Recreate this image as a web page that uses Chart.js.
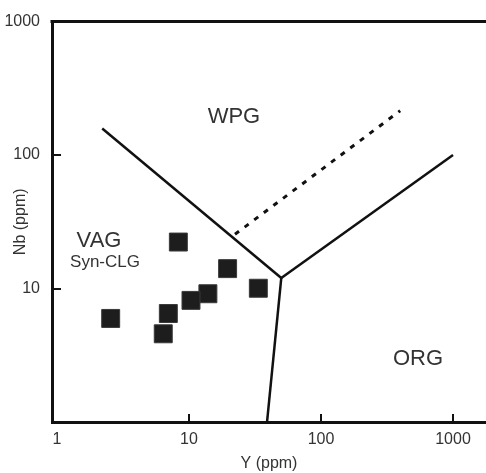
<!DOCTYPE html>
<html>
<head>
<meta charset="utf-8">
<script src="https://cdn.jsdelivr.net/npm/chart.js@4/dist/chart.umd.min.js"></script>
<style>
  html, body { margin: 0; padding: 0; background: #ffffff; }
  #wrap { width: 486px; height: 473px; }
</style>
</head>
<body>
<div id="wrap"><canvas id="c" width="486" height="473"></canvas></div>
<script>
// ---- data (Y ppm on x axis, Nb ppm on y axis) ----
const sampleY  = [2.55, 8.3, 19.6, 33.5, 13.9, 10.35, 6.97, 6.38];
const sampleNb = [5.97, 22.3, 14.1, 10.05, 9.14, 8.15, 6.5, 4.58];

// field boundaries
const wpgVagY  = [2.2, 50];   const wpgVagNb  = [158, 12];
const wpgOrgY  = [50, 1000];  const wpgOrgNb  = [12, 100];
const vagOrgY  = [50, 39];    const vagOrgNb  = [12, 1];
const dashY    = [22.3, 398]; const dashNb    = [25.5, 215];

// tick values
const xTicks = [1, 10, 100, 1000];
const yTicks = [1, 10, 100, 1000];

// field labels: text, Y, Nb
const fieldText = ['WPG', 'VAG', 'Syn-CLG', 'ORG'];
const fieldY    = [21.9, 2.08, 2.31, 543];
const fieldNb   = [194.5, 22.7, 15.8, 2.98];
const fieldSize = [22, 22, 17, 22];

const toPts = (xs, ys) => xs.map((x, i) => ({x: x, y: ys[i]}));

const FONT = '"Liberation Sans", Arial, sans-serif';
const INK = '#111';
const TXT = '#333';

const framePlugin = {
  id: 'frame',
  afterDraw(chart) {
    const ctx = chart.ctx;
    const a = chart.chartArea;
    const xs = chart.scales.x, ys = chart.scales.y;
    ctx.save();
    ctx.strokeStyle = INK;
    // top border
    ctx.lineWidth = 3;
    ctx.beginPath();
    ctx.moveTo(a.left - 1.5, a.top);
    ctx.lineTo(a.right, a.top);
    ctx.stroke();
    // inward tick marks
    ctx.lineWidth = 2;
    [10, 100, 1000].forEach(v => {
      const px = Math.round(xs.getPixelForValue(v));
      ctx.beginPath();
      ctx.moveTo(px, a.bottom);
      ctx.lineTo(px, a.bottom - 8);
      ctx.stroke();
    });
    [10, 100].forEach(v => {
      const py = Math.round(ys.getPixelForValue(v));
      ctx.beginPath();
      ctx.moveTo(a.left, py);
      ctx.lineTo(a.left + 9, py);
      ctx.stroke();
    });
    // field labels
    ctx.fillStyle = TXT;
    ctx.textAlign = 'center';
    ctx.textBaseline = 'middle';
    fieldText.forEach((t, i) => {
      ctx.font = fieldSize[i] + 'px ' + FONT;
      ctx.fillText(t, xs.getPixelForValue(fieldY[i]), ys.getPixelForValue(fieldNb[i]));
    });
    ctx.restore();
  }
};

const lineDs = (xs, ys, dash, w) => ({
  type: 'line',
  data: toPts(xs, ys),
  showLine: true,
  borderColor: INK,
  borderWidth: w,
  borderDash: dash,
  pointRadius: 0,
  fill: false,
  tension: 0
});

new Chart(document.getElementById('c'), {
  type: 'scatter',
  data: {
    datasets: [
      lineDs(wpgVagY, wpgVagNb, [], 2.5),
      lineDs(wpgOrgY, wpgOrgNb, [], 2.5),
      lineDs(vagOrgY, vagOrgNb, [], 2.5),
      lineDs(dashY, dashNb, [5, 7], 3),
      {
        type: 'scatter',
        data: toPts(sampleY, sampleNb),
        pointStyle: 'rect',
        pointRadius: 12.7,
        pointHoverRadius: 12.7,
        backgroundColor: '#1d1d1d',
        borderColor: '#3a3a3a',
        borderWidth: 1
      }
    ]
  },
  options: {
    responsive: false,
    animation: false,
    devicePixelRatio: 1,
    layout: { autoPadding: false, padding: { top: 16, right: 0, left: 0, bottom: 0 } },
    plugins: { legend: { display: false }, tooltip: { enabled: false } },
    scales: {
      x: {
        type: 'logarithmic',
        min: 0.916,
        max: 1778,
        afterBuildTicks(s) { s.ticks = xTicks.map(v => ({value: v})); },
        afterFit(s) { s.height = 51; },
        grid: { display: true, drawOnChartArea: false, drawTicks: false },
        border: { display: true, color: INK, width: 3 },
        ticks: {
          autoSkip: false, maxRotation: 0, padding: 8,
          color: TXT, font: { family: FONT, size: 16 },
          callback: v => String(v)
        },
        title: {
          display: true, text: 'Y (ppm)', color: TXT,
          font: { family: FONT, size: 16 }, padding: { top: 3, bottom: 0 }
        }
      },
      y: {
        type: 'logarithmic',
        min: 1,
        max: 1000,
        afterBuildTicks(s) { s.ticks = yTicks.filter(v => v > 1).map(v => ({value: v})); },
        afterFit(s) { s.width = 52; },
        grid: { display: true, drawOnChartArea: false, drawTicks: false },
        border: { display: true, color: INK, width: 3 },
        ticks: {
          autoSkip: false, padding: 12,
          color: TXT, font: { family: FONT, size: 16 },
          callback: v => String(v)
        },
        title: {
          display: true, text: 'Nb (ppm)', color: TXT,
          font: { family: FONT, size: 16 }, padding: { top: 11, bottom: 0 }
        }
      }
    }
  },
  plugins: [framePlugin]
});
</script>
</body>
</html>
